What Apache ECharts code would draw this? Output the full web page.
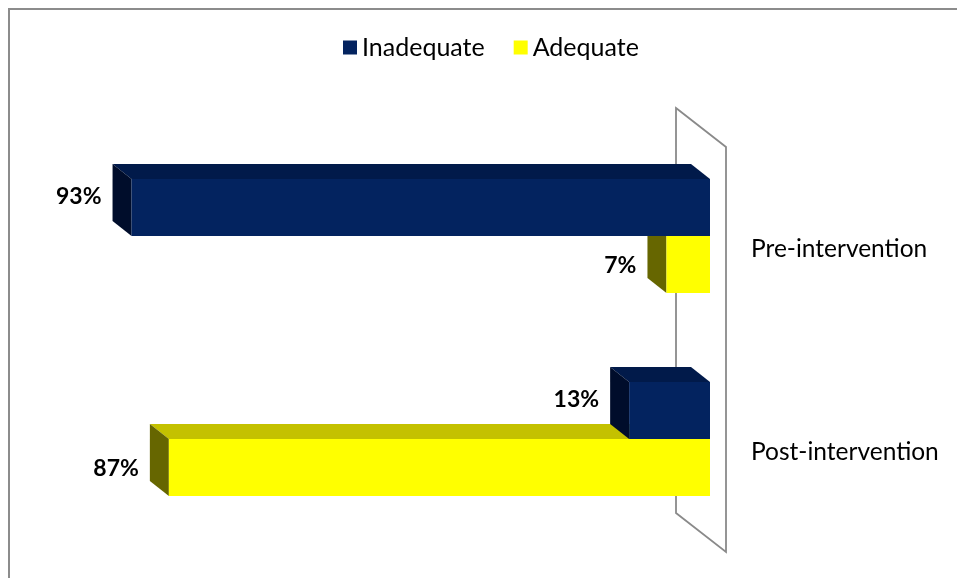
<!DOCTYPE html>
<html>
<head>
<meta charset="utf-8">
<script src="https://cdn.jsdelivr.net/npm/echarts@6/dist/echarts.min.js"></script>
<style>
html,body{margin:0;padding:0;background:#fff;}
#main{width:957px;height:578px;}
</style>
</head>
<body>
<div id="main"></div>
<script>
var categories = ['Pre-intervention', 'Post-intervention'];
var seriesNames = ['Inadequate', 'Adequate'];
var inadequate = [93, 13];
var adequate = [7, 87];

var FONT = 'Lato, "Open Sans", sans-serif';
var GRID = {left: 88, right: 247, top: 134.5, bottom: 37.5};
var DEPTH = [-19, -15];

var palettes = [
  {front: '#03235F', top: '#011A4A', side: '#000D2B'},
  {front: '#FFFF00', top: '#C4C100', side: '#666600'}
];

function makeRender(idx) {
  var pal = palettes[idx];
  return function (params, api) {
    var val = api.value(0), cat = api.value(1);
    var p0 = api.coord([0, cat]);
    var p1 = api.coord([val, cat]);
    var band = api.size([0, 1])[1];
    var h = band * 0.281;
    var top = idx === 0 ? p0[1] - h : p0[1];
    var bot = top + h;
    var xr = p0[0], xl = p1[0];
    var dx = DEPTH[0], dy = DEPTH[1];
    var mid = (top + bot) / 2;
    var ly = idx === 0 ? mid - 11 : mid + 1;
    var lx = xl + dx - 11;
    return {
      type: 'group',
      children: [
        {type: 'polygon', shape: {points: [[xl, top], [xr, top], [xr + dx, top + dy], [xl + dx, top + dy]]},
         style: {fill: pal.top}},
        {type: 'polygon', shape: {points: [[xl, top], [xl, bot], [xl + dx, bot + dy], [xl + dx, top + dy]]},
         style: {fill: pal.side}},
        {type: 'rect', shape: {x: xl, y: top, width: xr - xl, height: h},
         style: {fill: pal.front}},
        {type: 'text', style: {text: val + '%', x: lx, y: ly, align: 'right', verticalAlign: 'middle',
          font: 'bold 23px ' + FONT, fill: '#000'}}
      ]
    };
  };
}

function toData(arr) {
  return arr.map(function (v, i) { return [v, i]; });
}

var chart = echarts.init(document.getElementById('main'), null, {renderer: 'canvas'});
var W = 957, H = 578;
var X0 = W - GRID.right;
var gTop = GRID.top, gBot = H - GRID.bottom;

var option = {
  backgroundColor: '#fff',
  animation: false,
  legend: {
    data: seriesNames,
    top: 30,
    left: 338,
    itemWidth: 14,
    itemHeight: 14,
    itemGap: 29,
    icon: 'rect',
    textStyle: {fontFamily: FONT, fontSize: 25, color: '#000'}
  },
  grid: {left: GRID.left, right: GRID.right, top: GRID.top, bottom: GRID.bottom, containLabel: false},
  xAxis: {
    type: 'value', min: 0, max: 100, inverse: true, show: false
  },
  yAxis: {
    type: 'category', data: categories, inverse: true, position: 'right',
    axisLine: {show: false}, axisTick: {show: false}, splitLine: {show: false},
    axisLabel: {margin: 41, align: 'left', verticalAlign: 'top', padding: [1, 0, 0, 0],
      fontFamily: FONT, fontSize: 24.5, color: '#000'}
  },
  graphic: [
    {type: 'rect', z: -10, shape: {x: 9, y: 9, width: W + 20, height: H + 20},
     style: {fill: 'none', stroke: '#8c8c8c', lineWidth: 2}},
    {type: 'polygon', z: -5, shape: {points: [
      [X0 - 34, gTop - 26.5], [X0 + 16, gTop + 12.5], [X0 + 16, gBot + 11.5], [X0 - 34, gBot - 27.5]
    ]}, style: {fill: 'none', stroke: '#8a8a8a', lineWidth: 1.8}}
  ],
  series: [
    {name: 'Adequate', type: 'custom', renderItem: makeRender(1), data: toData(adequate),
     itemStyle: {color: '#FFFF00'}, z: 2, encode: {x: 0, y: 1}},
    {name: 'Inadequate', type: 'custom', renderItem: makeRender(0), data: toData(inadequate),
     itemStyle: {color: '#03235F'}, z: 3, encode: {x: 0, y: 1}}
  ]
};
chart.setOption(option);
</script>
</body>
</html>
